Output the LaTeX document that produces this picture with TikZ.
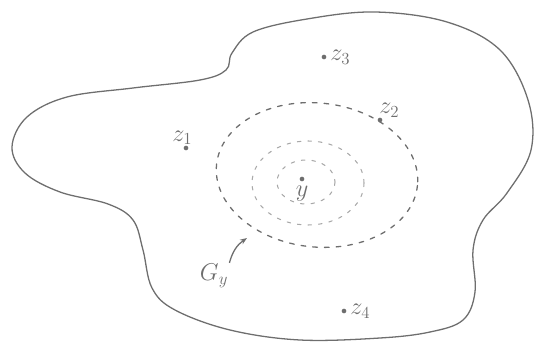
\documentclass[tikz,border=0pt]{standalone}
\usetikzlibrary{positioning,arrows.meta}
\definecolor{Pencil}{RGB}{110, 110, 110}

\begin{document}
\begin{tikzpicture}[x=0.03cm, y=-0.03cm,
                outline/.style={draw=Pencil, line width=1.1pt, line join=round},
                ring/.style={draw=Pencil, line width=1.1pt, dash pattern=on 4pt off 6pt, line cap=round},
                faint/.style={draw=Pencil!60, line width=0.9pt, dash pattern=on 3pt off 6pt, line cap=round},
                pt/.style={circle, fill=Pencil, inner sep=0pt, minimum size=4pt},
                lbl/.style={text=Pencil, font=\huge, inner sep=1pt},
                pointer/.style={-{Stealth[length=6pt]}, line width=1.1pt, Pencil}
            ]
                \useasboundingbox (0,0) rectangle (541,348);

                % Region boundary
                \draw[outline] plot[smooth cycle, tension=0.6] coordinates {
                    (232,53) (253,32) (307,19) (375,12) (447,22) (500,50) (528,100)
                    (531,150) (507,193) (483,220) (473,250) (475,292) (463,320)
                    (430,332) (380,338) (300,340) (230,330) (175,310) (152,288)
                    (143,250) (133,220) (108,204) (60,192) (25,173) (12,147)
                    (27,117) (67,97) (133,88) (200,80) (226,70)};

                % Level sets around y
                \draw[ring] (317,175) ellipse [x radius=101, y radius=72, rotate=-6];
                \draw[faint] (308,183) ellipse [x radius=56, y radius=42];
                \draw[faint] (306,182) ellipse [x radius=29, y radius=22];

                % Points
                \node[pt] (y) at (302,179) {};
                \node[pt] (z1) at (186,148) {};
                \node[pt] (z2) at (380,120) {};
                \node[pt] (z3) at (324,57) {};
                \node[pt] (z4) at (344,311) {};

                % Labels
                \node[lbl, below=3pt of y] (ly) {$y$};
                \node[lbl, above left=0pt and -8pt of z1] (lz1) {$z_1$};
                \node[lbl, above=-1pt of z2, xshift=8pt] (lz2) {$z_2$};
                \node[lbl, right=2pt of z3] (lz3) {$z_3$};
                \node[lbl, right=2pt of z4] (lz4) {$z_4$};

                % G_y and its pointer
                \node[lbl] (gy) at (214,276) {$G_y$};
                \coordinate (gytip) at (247,238);
                \draw[pointer] (gy.north east) to[bend left=20] (gytip);
            \end{tikzpicture}
\end{document}
